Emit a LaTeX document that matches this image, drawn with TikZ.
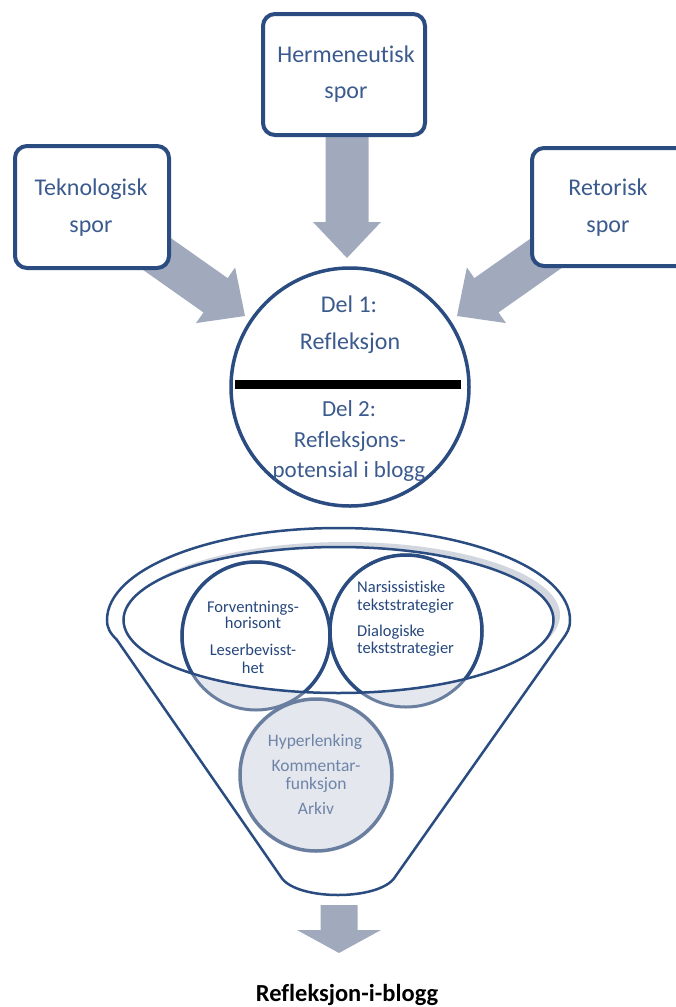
\documentclass[tikz,border=0pt]{standalone}
\usepackage{fontspec}
\setmainfont{Carlito}[Ligatures=NoCommon]
\usetikzlibrary{calc}
\definecolor{dblue}{HTML}{2A4C80}
\definecolor{tblue}{HTML}{3B5B8E}
\definecolor{agray}{HTML}{A1AABD}
\definecolor{lfill}{HTML}{E4E7ED}
\definecolor{mblue}{HTML}{6A7FA0}
\definecolor{shad}{HTML}{D2D6DF}
\definecolor{hblue}{HTML}{6E84A8}
\definecolor{cblue}{HTML}{26477D}
\newcommand{\blockarr}[5]{%
  \coordinate (#1h) at ($(#2)!#5!(#1)$);
  \fill[agray] ($(#1)!#3!90:(#2)$) -- ($(#1h)!#3!90:(#2)$) -- ($(#1h)!#4!90:(#2)$) -- (#2)
    -- ($(#1h)!#4!-90:(#2)$) -- ($(#1h)!#3!-90:(#2)$) -- ($(#1)!#3!-90:(#2)$) -- cycle;}
\tikzset{
  spbox/.style={draw=dblue, line width=4pt, rounded corners=12pt, fill=white, inner sep=0pt},
  bigtxt/.style={text=tblue, font=\fontsize{24}{28}\selectfont, inner sep=0pt, anchor=base},
  smalltxt/.style={text=cblue, font=\fontsize{16.5}{19}\selectfont, inner sep=0pt, anchor=base},
  hypertxt/.style={text=hblue, font=\fontsize{17.5}{20}\selectfont, inner sep=0pt, anchor=base},
  outline/.style={draw=dblue, line width=2.5pt},
}
\begin{document}
\begin{tikzpicture}[x=1pt, y=-1pt]
\useasboundingbox (0,0) rectangle (675,1007);
% arrows into the reflection circle
\coordinate (sa) at (147,247); \coordinate (ta) at (245,316);
\coordinate (sb) at (347,120); \coordinate (tb) at (347,258);
\coordinate (sc) at (555,247); \coordinate (tc) at (457,316);
\blockarr{sa}{ta}{21pt}{34pt}{36pt}
\blockarr{sb}{tb}{21.5pt}{34pt}{36pt}
\blockarr{sc}{tc}{21pt}{34pt}{36pt}
% boxes
\node[spbox, minimum width=154pt, minimum height=122pt] (tek) at (92,207) {};
\node[spbox, minimum width=162pt, minimum height=121pt] (her) at (344,74.5) {};
\node[spbox, minimum width=168pt, minimum height=118pt] (ret) at (616,207) {};
\node[bigtxt] (tek1) at (91,195) {Teknologisk};
\node[bigtxt] (tek2) at (91,232) {spor};
\node[bigtxt] (her1) at (346,62) {Hermeneutisk};
\node[bigtxt] (her2) at (346,98) {spor};
\node[bigtxt] (ret1) at (608,195) {Retorisk};
\node[bigtxt] (ret2) at (608,232) {spor};
% main circle
\node[circle, draw=dblue, line width=3.5pt, fill=white, minimum size=238pt, inner sep=0pt] (main) at (350,387) {};
\fill[black] (235,380) rectangle (461,389);
\node[bigtxt] (d1) at (349,312) {Del 1:};
\node[bigtxt] (d1b) at (350,349) {Refleksjon};
\node[bigtxt, font=\fontsize{23}{27}\selectfont] (d2) at (349,416) {Del 2:};
\node[bigtxt, font=\fontsize{23}{27}\selectfont] (d2b) at (350,447) {Refleksjons-};
\node[bigtxt, font=\fontsize{23}{27}\selectfont] (d2c) at (349,477) {potensial i blogg};
% funnel
\draw[outline, fill=white] (107,620) arc[start angle=180, end angle=360, x radius=231.5, y radius=92]
  .. controls (570,629) and (567,633) .. (562,640) -- (395,877)
  .. controls (380,901) and (296,901) .. (281,877) -- (117,640)
  .. controls (110,633) and (107,628) .. (107,620) -- cycle;
% inner ellipse with shadow
\fill[shad] (345,615) ellipse [x radius=215, y radius=73];
\fill[white] (338.5,620) ellipse [x radius=215, y radius=73];
\draw[mblue, line width=3pt, fill=lfill] (256,636) circle [radius=74];
\draw[mblue, line width=3pt, fill=lfill] (406,631) circle [radius=76];
\begin{scope}
  \clip (338.5,620) ellipse [x radius=215, y radius=73];
  \draw[dblue, line width=3.5pt, fill=white] (256,636) circle [radius=74];
  \draw[dblue, line width=3.5pt, fill=white] (406,631) circle [radius=76];
\end{scope}
\draw[outline] (338.5,620) ellipse [x radius=215, y radius=73];
\node[smalltxt] (l1) at (253,612) {Forventnings-};
\node[smalltxt] (l2) at (253,628) {horisont};
\node[smalltxt] (l3) at (253,655) {Leserbevisst-};
\node[smalltxt] (l4) at (253,673) {het};
\node[smalltxt, anchor=base west] (r1) at (357,592) {Narsissistiske};
\node[smalltxt, anchor=base west] (r2) at (357,610) {tekststrategier};
\node[smalltxt, anchor=base west] (r3) at (357,636) {Dialogiske};
\node[smalltxt, anchor=base west] (r4) at (357,653) {tekststrategier};
% lower circle
\node[circle, draw=mblue, line width=3.5pt, fill=lfill, minimum size=152pt, inner sep=0pt] (hyp) at (316,775) {};
\node[hypertxt] (h1) at (315,746) {Hyperlenking};
\node[hypertxt] (h2) at (316,771) {Kommentar-};
\node[hypertxt] (h3) at (316,789) {funksjon};
\node[hypertxt] (h4) at (316,814) {Arkiv};
% output arrow
\coordinate (sd) at (339,905); \coordinate (td) at (339,953);
\blockarr{sd}{td}{18.5pt}{42pt}{23pt}
\node[inner sep=0pt, anchor=base, font=\bfseries\fontsize{24.5}{28}\selectfont] (out) at (347,1001) {Refleksjon-i-blogg};
\end{tikzpicture}
\end{document}
